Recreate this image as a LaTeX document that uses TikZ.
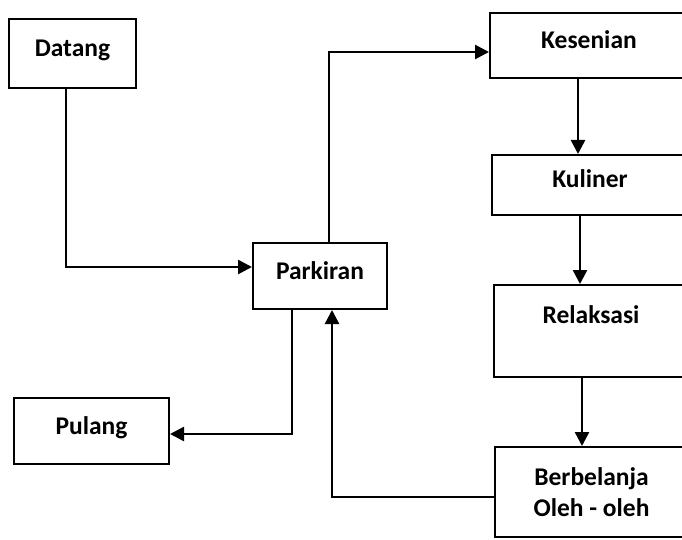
\documentclass[tikz,border=0pt]{standalone}
\usepackage{fontspec}
\setmainfont{Carlito}
\usetikzlibrary{arrows.meta}

\begin{document}
\begin{tikzpicture}[x=1pt, y=-1pt,
    box/.style={draw, line width=2pt, font=\fontsize{25.5}{31}\selectfont\bfseries,
	align=center, inner sep=0pt},
    onebox/.style={box, text height=18pt, text depth=12pt},
    arr/.style={line width=2.5pt, -{Triangle[length=14pt, width=14pt]}}]
    \useasboundingbox[fill=white] (0, 0) rectangle (682, 540);
    \node[onebox, minimum width=127, minimum height=69] (datang) at (72.5, 53.5) {Datang};
    \node[onebox, minimum width=134, minimum height=66] (parkir) at (320, 276) {Parkiran};
    \node[onebox, minimum width=155, minimum height=66] (pulang) at (91.5, 431) {Pulang};
    \node[onebox, minimum width=198, minimum height=65] (kesen) at (589, 45.5) {Kesenian};
    \node[onebox, minimum width=196, minimum height=60] (kulin) at (590, 185) {Kuliner};
    \node[box, minimum width=194, minimum height=92] (relaks) at (591, 331) {Relaksasi\\[2pt]~};
    \node[box, minimum width=193, minimum height=90] (belanja) at (591.5, 492)
	{Berbelanja\\Oleh - oleh};

    \draw[arr] ([xshift=-6.5pt]datang.south) |- ([yshift=9pt]parkir.west);
    \draw[arr] ([xshift=9pt]parkir.north) |- ([yshift=-6.5pt]kesen.west);
    \draw[arr] ([xshift=-11pt]kesen.south) -- ([xshift=-12pt]kulin.north);
    \draw[arr] ([xshift=-10pt]kulin.south) -- ([xshift=-11pt]relaks.north);
    \draw[arr] ([xshift=-9pt]relaks.south) -- ([xshift=-9.5pt]belanja.north);
    \draw[arr] ([yshift=-5pt]belanja.west) -| ([xshift=12pt]parkir.south);
    \draw[arr] ([xshift=-28pt]parkir.south) |- ([yshift=-3pt]pulang.east);
\end{tikzpicture}
\end{document}
